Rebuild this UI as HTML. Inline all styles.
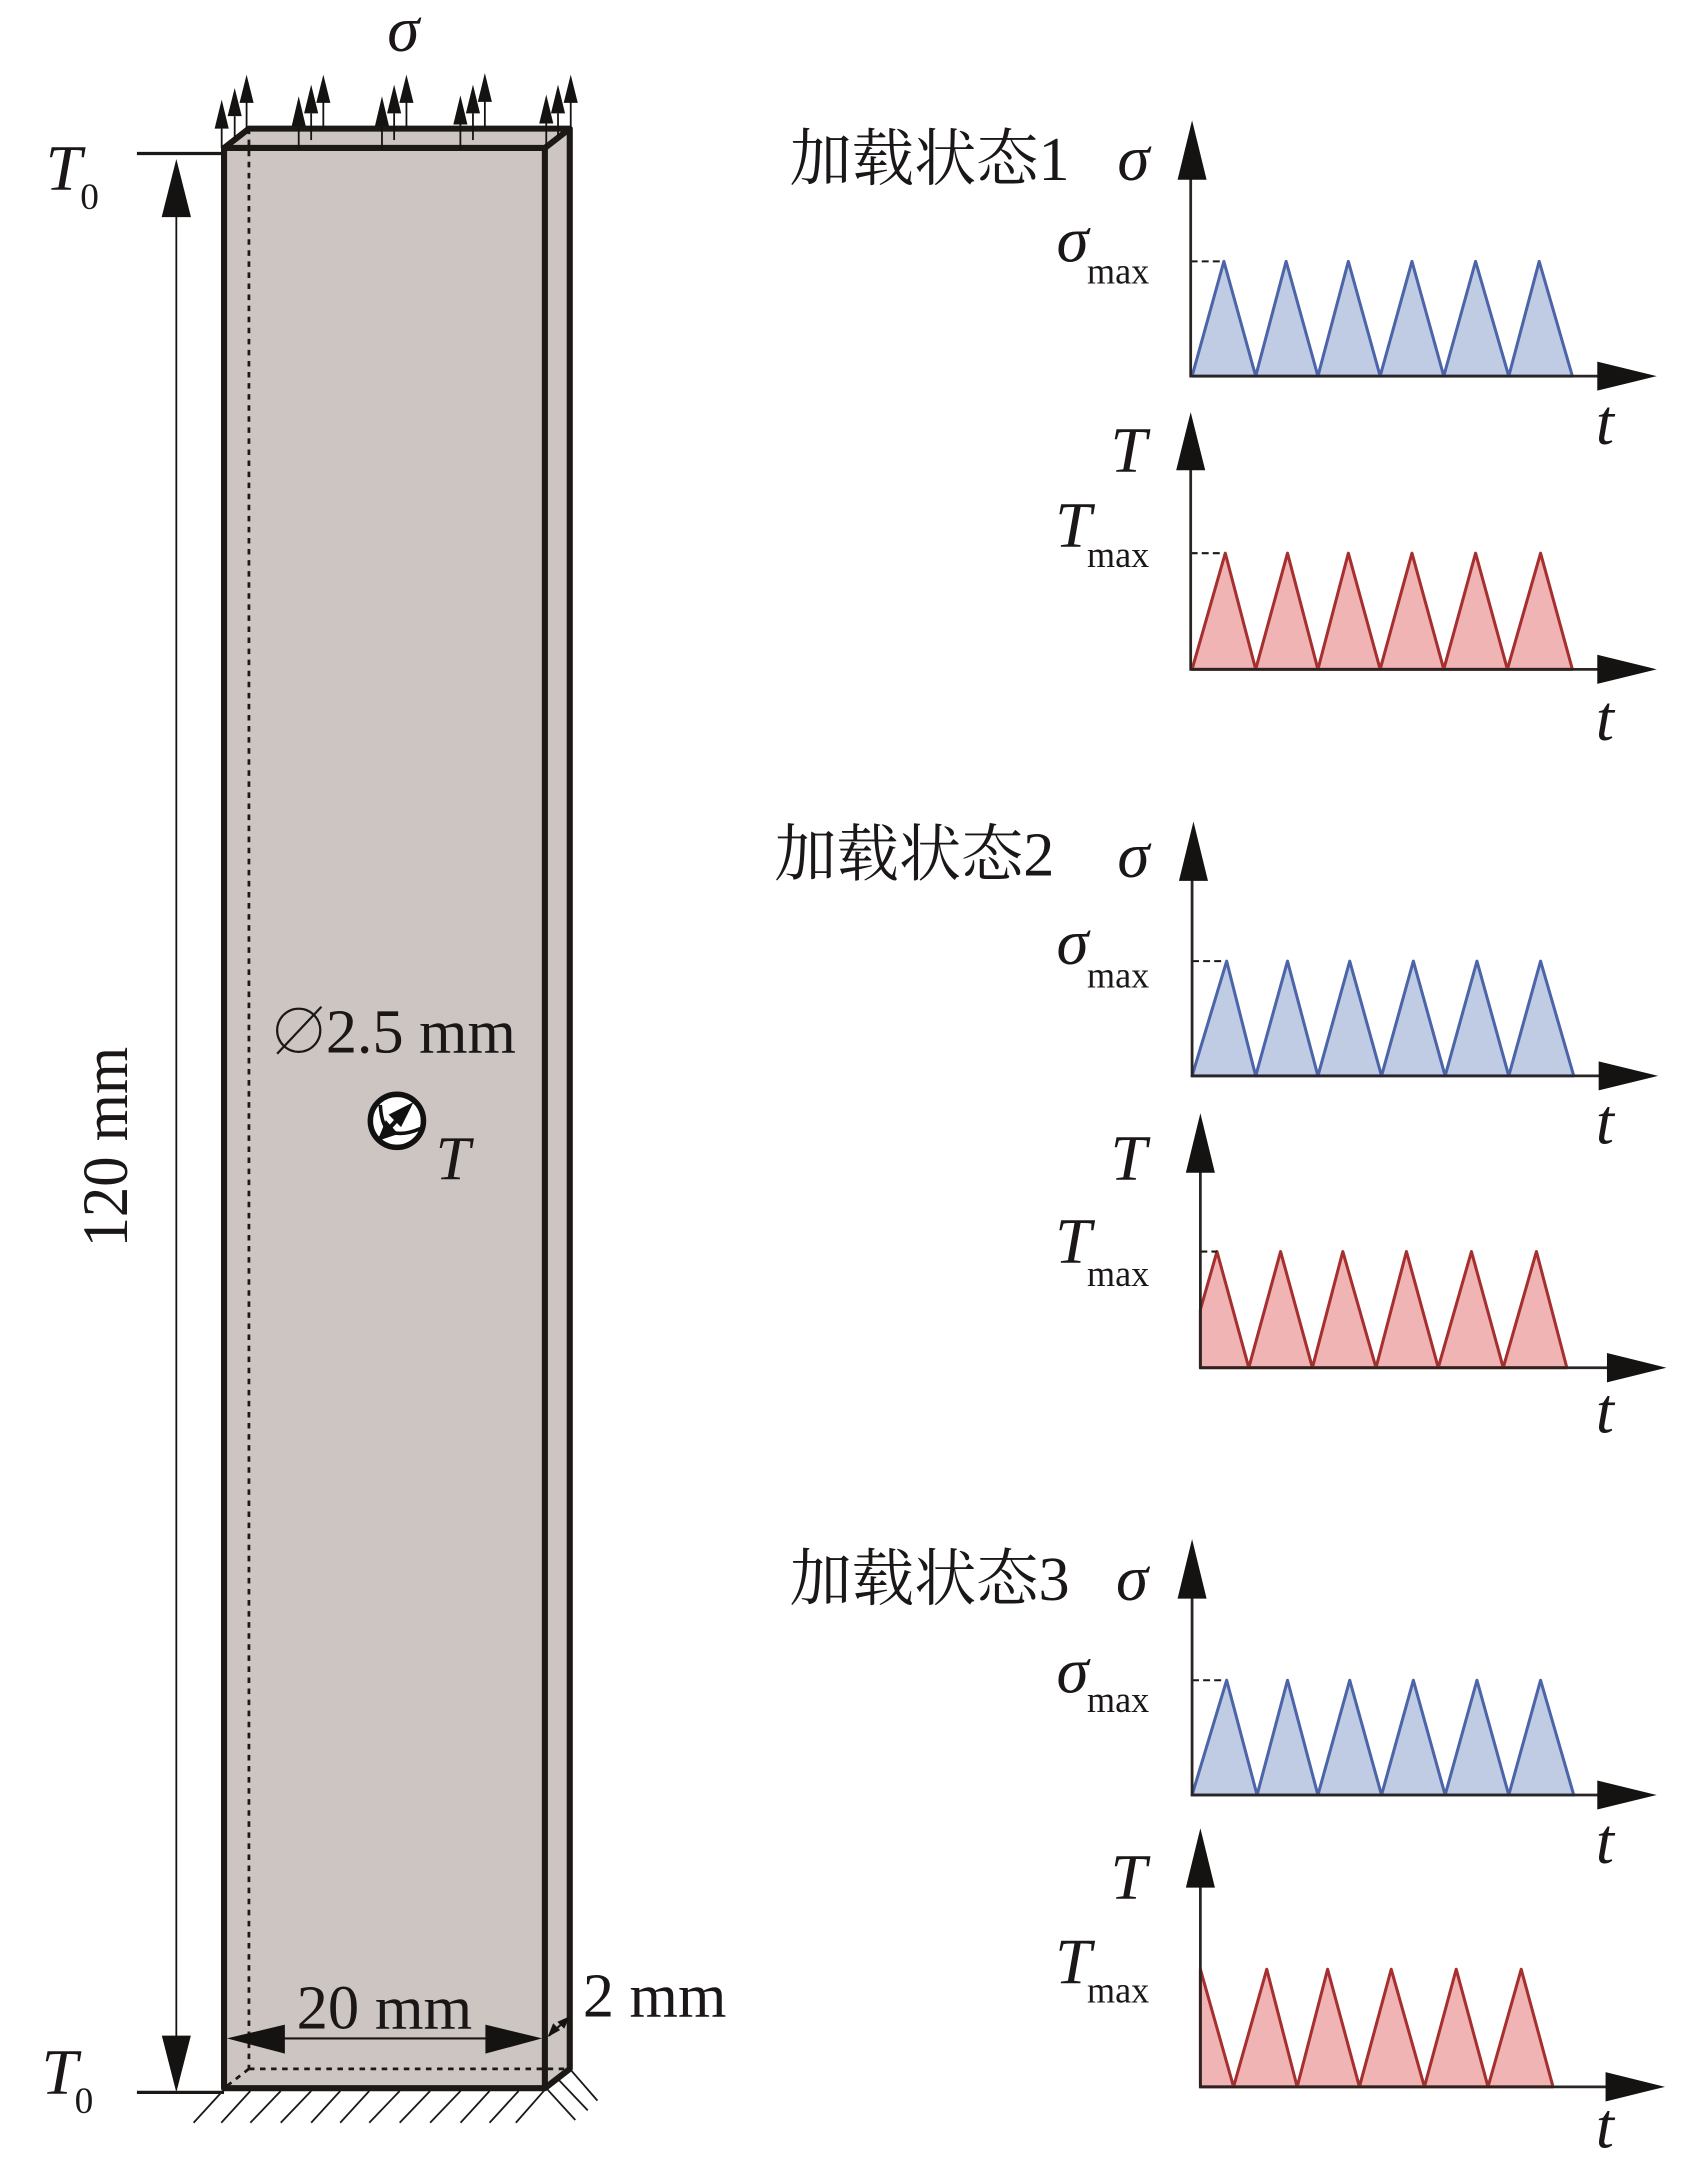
<!DOCTYPE html>
<html><head><meta charset="utf-8">
<style>
html,body{margin:0;padding:0;background:#fff;width:1701px;height:2168px;overflow:hidden}
svg{display:block}
text{font-family:"Liberation Serif","Noto Serif CJK SC",serif;fill:#1a1716}
.i{font-style:italic;font-size:47px}
.m{font-size:27px}
.n{font-size:45px}
.c{font-size:45px;font-family:"Liberation Serif","Noto Serif CJK SC",serif}
.ax{stroke:#2a2522;stroke-width:2;fill:none}
.h{fill:#151312}
.b{fill:#c0cce3;stroke:#4c64a8;stroke-width:2.2;stroke-linejoin:round}
.r{fill:#f0b4b4;stroke:#a5302f;stroke-width:2.2;stroke-linejoin:round}
.s{stroke:#151312;stroke-width:1.3;fill:none}
.e{stroke:#1c1816;stroke-width:4.4;fill:none;stroke-linejoin:round}
.d{stroke:#1c1816;stroke-width:2;stroke-dasharray:4 4;fill:none}
.da{stroke:#1c1816;stroke-width:1.5;stroke-dasharray:5 3;fill:none}
</style></head><body>
<svg width="1701" height="2168" viewBox="0 0 1230 1567.7" xmlns="http://www.w3.org/2000/svg">
<rect width="1230" height="1568" fill="#fff"/>

<!-- specimen -->
<polygon points="162,107 180,93 412,93 412,1496 394,1510 162,1510" fill="#cdc5c2"/>
<line x1="180" y1="93" x2="180" y2="1496" class="d"/>
<line x1="180" y1="1496" x2="412" y2="1496" class="d"/>
<line x1="180" y1="1496" x2="162" y2="1510" class="d"/>
<path d="M162,107 L180,93 L412,93 L412,1496 L394,1510 L162,1510 Z" class="e"/>
<path d="M162,107 L394,107 L394,1510 M394,107 L412,93" class="e"/>

<!-- load arrows -->
<g class="s">
<line x1="160.3" y1="93" x2="160.3" y2="107"/><line x1="169.7" y1="84" x2="169.7" y2="100"/><line x1="178.3" y1="74" x2="178.3" y2="93"/>
<line x1="216" y1="91" x2="216" y2="108"/><line x1="225" y1="82" x2="225" y2="101.3"/><line x1="233.8" y1="74" x2="233.8" y2="93"/>
<line x1="276.2" y1="91" x2="276.2" y2="108"/><line x1="285" y1="82" x2="285" y2="101.3"/><line x1="293.9" y1="74" x2="293.9" y2="93"/>
<line x1="332.9" y1="90" x2="332.9" y2="108"/><line x1="342" y1="82" x2="342" y2="101.3"/><line x1="350.6" y1="73" x2="350.6" y2="93"/>
<line x1="395" y1="89" x2="395" y2="106"/><line x1="403.5" y1="82" x2="403.5" y2="98.4"/><line x1="412.7" y1="74" x2="412.7" y2="93"/>
</g>
<g class="h">
<polygon points="160.3,72 155.2,93 165.4,93"/><polygon points="169.7,63.6 164.6,84 174.8,84"/><polygon points="178.3,54 173.2,74.4 183.4,74.4"/>
<polygon points="216,69.6 210.9,91.2 221.1,91.2"/><polygon points="225,61.2 219.9,82 230.1,82"/><polygon points="233.8,54 228.7,74.4 238.9,74.4"/>
<polygon points="276.2,69.6 271.1,91.2 281.3,91.2"/><polygon points="285,61.2 279.9,82 290.1,82"/><polygon points="293.9,54 288.8,74.4 299,74.4"/>
<polygon points="332.9,69 327.8,90 338,90"/><polygon points="342,61.2 336.9,82 347.1,82"/><polygon points="350.6,52.8 345.5,73.7 355.7,73.7"/>
<polygon points="395,68.4 389.9,89.3 400.1,89.3"/><polygon points="403.5,61.2 398.4,82 408.6,82"/><polygon points="412.7,54 407.6,74.4 417.8,74.4"/>
</g>
<text x="280" y="37" class="i">σ</text>

<!-- T0 and vertical dimension -->
<line x1="99" y1="111" x2="162" y2="111" stroke="#1c1816" stroke-width="2.4"/>
<line x1="99" y1="1513" x2="162" y2="1513" stroke="#1c1816" stroke-width="2.4"/>
<text x="33" y="137" class="i">T</text><text x="58" y="151" font-size="27">0</text>
<text x="30" y="1514" class="i">T</text><text x="54" y="1528" font-size="27">0</text>
<line x1="127.5" y1="150" x2="127.5" y2="1475" class="s"/>
<polygon points="127.5,115 116.9,157 138.1,157" class="h"/>
<polygon points="127.5,1513 117,1472 138,1472" class="h"/>
<text transform="translate(92,902) rotate(-90)" font-size="47" textLength="145" lengthAdjust="spacingAndGlyphs">120 mm</text>

<!-- hole label -->
<circle cx="216" cy="745" r="15.6" fill="none" stroke="#1a1716" stroke-width="1.6"/>
<line x1="200.4" y1="762" x2="232.4" y2="728" stroke="#1a1716" stroke-width="1.6"/>
<text x="235.6" y="761" class="n">2.5 mm</text>

<!-- thermocouple -->
<circle cx="287" cy="810.5" r="19.2" fill="#fff" stroke="#111" stroke-width="4"/>
<path d="M275,799 Q276,817 284,819 Q293,821 304,816" fill="none" stroke="#111" stroke-width="2.6"/>
<polygon points="299,797 281,806 290,815" fill="#111"/>
<polygon points="273,825 279,810 288,820" fill="#111"/>
<line x1="274" y1="824" x2="296" y2="800" stroke="#111" stroke-width="3"/>
<text x="315" y="853" class="n" font-style="italic">T</text>

<!-- width dim -->
<line x1="205" y1="1474" x2="352" y2="1474" stroke="#1c1816" stroke-width="1.6"/>
<polygon points="164,1474 206,1464 206,1485" class="h"/>
<polygon points="392,1474 351,1464 351,1485" class="h"/>
<text x="214.5" y="1467" class="n" textLength="127" lengthAdjust="spacingAndGlyphs">20 mm</text>
<line x1="397" y1="1472" x2="411" y2="1459" stroke="#1c1816" stroke-width="1.6"/>
<polygon points="396,1473 400,1463 405,1468" class="h"/>
<polygon points="412,1458 403,1462 408,1467" class="h"/>
<text x="421.5" y="1458" class="n">2 mm</text>

<!-- hatching -->
<g stroke="#1c1816" stroke-width="1.3">
<line x1="161" y1="1512" x2="140" y2="1535"/><line x1="181" y1="1512" x2="160" y2="1535"/>
<line x1="203" y1="1512" x2="181" y2="1535"/><line x1="225" y1="1512" x2="203" y2="1535"/>
<line x1="246" y1="1512" x2="225" y2="1535"/><line x1="267" y1="1512" x2="246" y2="1535"/>
<line x1="289" y1="1512" x2="267" y2="1535"/><line x1="311" y1="1512" x2="289" y2="1535"/>
<line x1="333" y1="1512" x2="311" y2="1535"/><line x1="354" y1="1512" x2="333" y2="1535"/>
<line x1="375" y1="1512" x2="354" y2="1535"/><line x1="395" y1="1510" x2="373" y2="1535"/>
<line x1="395" y1="1510" x2="416" y2="1533"/><line x1="404" y1="1504" x2="425" y2="1526"/><line x1="412" y1="1496" x2="432" y2="1519"/>
</g>

<!-- titles -->
<text x="571" y="130" class="c">加载状态1</text>
<text x="560" y="633" class="c">加载状态2</text>
<text x="571" y="1157" class="c">加载状态3</text>

<!-- chart 1a -->
<polygon class="b" points="862,272 885,189 908,272 930,189 953,272 975,189 998,272 1021,189 1044,272 1067,189 1091,272 1113,189 1137,272"/>
<line x1="861" y1="189" x2="884" y2="189" class="da"/>
<path d="M861,110 V272 H1160" class="ax"/>
<polygon points="862,87 851.5,130 872.5,130" class="h"/>
<polygon points="1198,272 1155,261.5 1155,282.5" class="h"/>
<text x="808" y="130" class="i">σ</text>
<text x="764" y="189" class="i">σ</text><text x="786" y="205" class="m" textLength="45" lengthAdjust="spacingAndGlyphs">max</text>
<text x="1154" y="321" class="i">t</text>

<!-- chart 1b -->
<polygon class="r" points="862,484 886,400 908,484 931,400 953,484 975,400 998,484 1021,400 1044,484 1067,400 1090,484 1114,400 1137,484"/>
<line x1="861" y1="400" x2="885" y2="400" class="da"/>
<path d="M861,320 V484 H1160" class="ax"/>
<polygon points="861,298 850.5,340 871.5,340" class="h"/>
<polygon points="1198,484 1155,473.5 1155,494.5" class="h"/>
<text x="803" y="341" class="i">T</text>
<text x="763" y="395" class="i">T</text><text x="786" y="410" class="m" textLength="45" lengthAdjust="spacingAndGlyphs">max</text>
<text x="1154" y="535" class="i">t</text>

<!-- chart 2a -->
<polygon class="b" points="862,778 887,695 908,778 931,695 953,778 976,695 999,778 1022,695 1045,778 1068,695 1091,778 1114,695 1138,778"/>
<line x1="862" y1="695" x2="886" y2="695" class="da"/>
<path d="M862,620 V778 H1160" class="ax"/>
<polygon points="863,594 852.5,637 873.5,637" class="h"/>
<polygon points="1199,778 1156,767.5 1156,788.5" class="h"/>
<text x="808" y="634" class="i">σ</text>
<text x="764" y="697" class="i">σ</text><text x="786" y="714" class="m" textLength="45" lengthAdjust="spacingAndGlyphs">max</text>
<text x="1154" y="827" class="i">t</text>

<!-- chart 2b -->
<polygon class="r" points="868,989 868,947 880,905 903,989 926,905 949,989 971,905 995,989 1017,905 1040,989 1064,905 1087,989 1111,905 1133,989"/>
<line x1="868" y1="905" x2="880" y2="905" class="da"/>
<path d="M868,830 V989 H1165" class="ax"/>
<polygon points="868,805 857.5,848 878.5,848" class="h"/>
<polygon points="1205,989 1162,978.4 1162,999.6" class="h"/>
<text x="803" y="853" class="i">T</text>
<text x="763" y="913" class="i">T</text><text x="786" y="930" class="m" textLength="45" lengthAdjust="spacingAndGlyphs">max</text>
<text x="1154" y="1036" class="i">t</text>

<!-- chart 3a -->
<polygon class="b" points="862,1298 887,1215 909,1298 931,1215 953,1298 976,1215 999,1298 1022,1215 1045,1298 1068,1215 1091,1298 1114,1215 1138,1298"/>
<line x1="862" y1="1215" x2="886" y2="1215" class="da"/>
<path d="M862,1140 V1298 H1160" class="ax"/>
<polygon points="862,1113 851.5,1156 872.5,1156" class="h"/>
<polygon points="1198,1298 1155,1287.5 1155,1308.5" class="h"/>
<text x="807" y="1157" class="i">σ</text>
<text x="764" y="1224" class="i">σ</text><text x="786" y="1238" class="m" textLength="45" lengthAdjust="spacingAndGlyphs">max</text>
<text x="1154" y="1347" class="i">t</text>

<!-- chart 3b -->
<polygon class="r" points="868,1509 868,1424 892,1509 916,1424 938,1509 960,1424 983,1509 1006,1424 1030,1509 1053,1424 1076,1509 1100,1424 1123,1509"/>
<path d="M868,1345 V1509 H1165" class="ax"/>
<polygon points="868,1322 857.5,1365 878.5,1365" class="h"/>
<polygon points="1204,1509 1161,1498.4 1161,1519.6" class="h"/>
<text x="803" y="1373" class="i">T</text>
<text x="763" y="1434" class="i">T</text><text x="786" y="1448" class="m" textLength="45" lengthAdjust="spacingAndGlyphs">max</text>
<text x="1154" y="1553" class="i">t</text>
</svg>
</body></html>
